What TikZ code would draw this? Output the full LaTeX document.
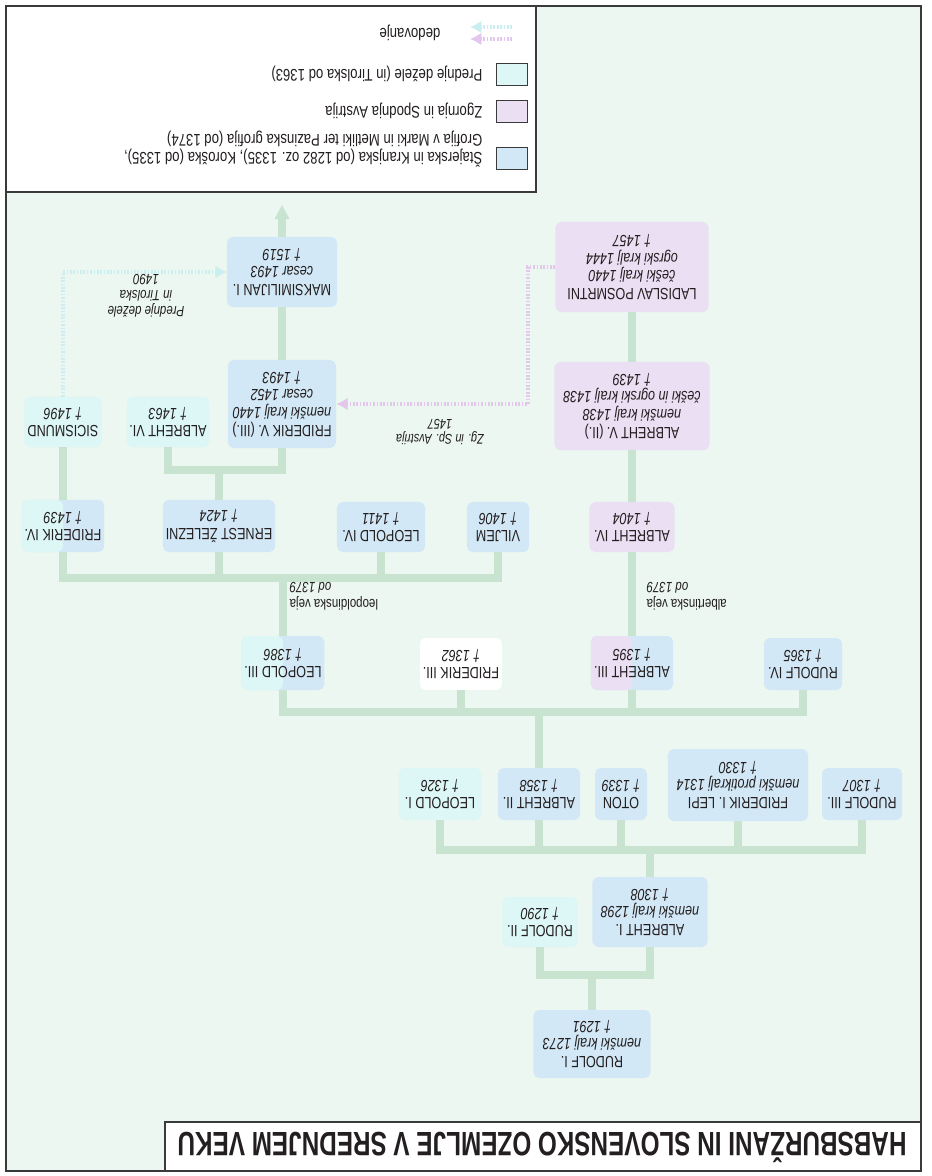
\documentclass[tikz,border=0pt]{standalone}
\usepackage{fontspec}
\setmainfont[FakeStretch=0.78]{Liberation Sans}
\newfontfamily\naslov[FakeStretch=0.72]{Liberation Sans}
\usetikzlibrary{arrows.meta}

\definecolor{ozadje}{HTML}{EBF7F0}
\definecolor{crtazel}{HTML}{C8E4D0}
\definecolor{kranjska}{HTML}{D3E8F6}
\definecolor{avstrija}{HTML}{EADFF3}
\definecolor{prednje}{HTML}{DDF6F6}
\definecolor{dedroza}{HTML}{E4C6EC}
\definecolor{dedmodra}{HTML}{CBEFF1}
\definecolor{okvir}{HTML}{3A3A3A}
\definecolor{crnilo}{HTML}{231F20}

\tikzstyle{oseba} = [rectangle, rounded corners=4pt, rotate=180, align=center, inner sep=2pt, text=crnilo, font=\fontsize{11.5}{12.5}\selectfont]
\tikzstyle{modra} = [oseba, fill=kranjska]
\tikzstyle{vijola} = [oseba, fill=avstrija]
\tikzstyle{cian} = [oseba, fill=prednje]
\tikzstyle{bela} = [oseba, fill=white]
\tikzset{deljena/.style={oseba, fill=kranjska, path picture={\fill[#1] (path picture bounding box.north west) rectangle (path picture bounding box.south);}}}
\tikzstyle{linija} = [line width=5.5pt, draw=crtazel]
\tikzstyle{dedovanje} = [line width=3pt, dash pattern=on 1.2pt off 1.2pt, -{Latex[length=8pt,width=9pt]}]
\tikzstyle{oznaka} = [rotate=180, inner sep=1pt, text=crnilo, font=\fontsize{10.5}{12}\selectfont]
\tikzstyle{barva} = [draw=okvir, line width=0.5pt, minimum width=0.78cm, minimum height=0.55cm, inner sep=0pt]
\newcommand{\letnica}[1]{{\itshape #1}}

\begin{document}
\begin{tikzpicture}[x=0.025cm, y=-0.025cm]
\useasboundingbox (0,0) rectangle (932,1176);
\fill[ozadje] (6,6) rectangle (921,1171);

% rodovnik
\node (rud1) [modra, minimum width=2.93cm, minimum height=1.7cm] at (592,1044) {RUDOLF I.\\ \letnica{nemški kralj 1273}\\ \letnica{† 1291}};
\node (rud2) [cian, minimum width=1.88cm, minimum height=1.25cm] at (540,922) {RUDOLF II.\\ \letnica{† 1290}};
\node (alb1) [modra, minimum width=2.88cm, minimum height=1.75cm] at (650,912) {ALBREHT I.\\ \letnica{nemški kralj 1298}\\ \letnica{† 1308}};

\node (rud3) [modra, minimum width=2cm, minimum height=1.3cm] at (862,794) {RUDOLF III.\\ \letnica{† 1307}};
\node (fri1) [modra, minimum width=3.5cm, minimum height=1.8cm] at (738,785) {FRIDERIK I. LEPI\\ \letnica{nemški protikralj 1314}\\ \letnica{† 1330}};
\node (oton) [modra, minimum width=1.3cm, minimum height=1.3cm] at (621,794) {OTON\\ \letnica{† 1339}};
\node (alb2) [modra, minimum width=2.05cm, minimum height=1.3cm] at (539,794) {ALBREHT II.\\ \letnica{† 1358}};
\node (leo1) [cian, minimum width=2.05cm, minimum height=1.3cm] at (440,794) {LEOPOLD I.\\ \letnica{† 1326}};

\node (rud4) [modra, minimum width=1.95cm, minimum height=1.3cm] at (803,664) {RUDOLF IV.\\ \letnica{† 1365}};
\node (alb3) [deljena=avstrija, minimum width=2.05cm, minimum height=1.35cm] at (632,663) {ALBREHT III.\\ \letnica{† 1395}};
\node (fri3) [bela, minimum width=2.05cm, minimum height=1.3cm] at (461,664) {FRIDERIK III.\\ \letnica{† 1362}};
\node (leo3) [deljena=prednje, minimum width=2.05cm, minimum height=1.35cm] at (283,663) {LEOPOLD III.\\ \letnica{† 1386}};

\node (alb4) [vijola, minimum width=2.13cm, minimum height=1.25cm] at (632,527) {ALBREHT IV.\\ \letnica{† 1404}};
\node (vilj) [modra, minimum width=1.55cm, minimum height=1.25cm] at (498,527) {VILJEM\\ \letnica{† 1406}};
\node (leo4) [modra, minimum width=2.2cm, minimum height=1.25cm] at (381,527) {LEOPOLD IV.\\ \letnica{† 1411}};
\node (ern) [modra, minimum width=2.75cm, minimum height=1.3cm] at (219,526) {ERNEST ŽELEZNI\\ \letnica{† 1424}};
\node (fri4) [deljena=prednje, minimum width=1.9cm, minimum height=1.3cm] at (63,526) {FRIDERIK IV.\\ \letnica{† 1439}};

\node (alb5) [vijola, minimum width=3.88cm, minimum height=2.2cm] at (632,406) {ALBREHT V. (II.)\\ \letnica{nemški kralj 1438}\\ \letnica{češki in ogrski kralj 1438}\\ \letnica{† 1439}};
\node (fri5) [modra, minimum width=2.7cm, minimum height=2.2cm] at (282,404) {FRIDERIK V. (III.)\\ \letnica{nemški kralj 1440}\\ \letnica{cesar 1452}\\ \letnica{† 1493}};
\node (alb6) [cian, minimum width=2cm, minimum height=1.25cm] at (168,422) {ALBREHT VI.\\ \letnica{† 1463}};
\node (sig) [cian, minimum width=1.93cm, minimum height=1.25cm] at (63,422) {SICISMUND\\ \letnica{† 1496}};

\node (lad) [vijola, minimum width=3.83cm, minimum height=2.25cm] at (632,267) {LADISLAV POSMRTNI\\ \letnica{češki kralj 1440}\\ \letnica{ogrski kralj 1444}\\ \letnica{† 1457}};
\node (maks) [modra, minimum width=2.75cm, minimum height=1.75cm] at (282,272) {MAKSIMILIJAN I.\\ \letnica{cesar 1493}\\ \letnica{† 1519}};

\coordinate (b1) at (592,975);
\coordinate (b2) at (650,850);
\coordinate (b3) at (539,712);
\coordinate (b4) at (283,578);
\coordinate (b5) at (219,470);
\coordinate (naprej) at (282,205);

\draw [linija] (rud2.north) |- (b1) -| (alb1.north);
\draw [linija] (rud1.south) -- (b1);
\draw [linija] (leo1.north) |- (b2) -| (rud3.north);
\draw [linija] (alb1.south) -- (b2);
\foreach \n in {alb2, oton, fri1}
  \draw [linija] (\n.north) -- (\n.north |- b2);
\draw [linija] (leo3.north) |- (b3) -| (rud4.north);
\draw [linija] (alb2.south) -- (b3);
\foreach \n in {alb3, fri3}
  \draw [linija] (\n.north) -- (\n.north |- b3);
\draw [linija] (fri4.north) |- (b4) -| (vilj.north);
\draw [linija] (leo3.south) -- (b4);
\foreach \n in {ern, leo4}
  \draw [linija] (\n.north) -- (\n.north |- b4);
\draw [linija] (alb6.north) |- (b5) -| (fri5.north);
\draw [linija] (ern.south) -- (b5);
\draw [linija] (alb3.south) -- (alb4.north);
\draw [linija] (alb4.south) -- (alb5.north);
\draw [linija] (alb5.south) -- (lad.north);
\draw [linija] (fri4.south) -- (sig.north);
\draw [linija] (fri5.south) -- (maks.north);
\draw [linija, -{Triangle[length=10pt,width=10pt]}] (maks.south) -- (naprej);

\draw [dedovanje, draw=dedroza] (lad.east) -- ++(-27,0) |- (fri5.west);
\draw [dedovanje, draw=dedmodra] (sig.south) |- (maks.east);

\node (albveja) [oznaka, anchor=east, align=right] at (645,596) {albertinska veja\\ \textit{od 1379}};
\node (leoveja) [oznaka, anchor=east, align=right] at (288,596) {leopoldinska veja\\ \textit{od 1379}};
\node (zgsp) [oznaka, align=center, font=\fontsize{10}{10.5}\selectfont\itshape] at (440,432) {Zg. in Sp. Avstrija\\ 1457};
\node (tirol) [oznaka, align=center, font=\fontsize{10.5}{11.5}\selectfont\itshape] at (146,296) {Prednje dežele\\ in Tirolska\\ 1490};

% legenda
\draw [draw=okvir, line width=0.8pt, fill=white] (6,6) rectangle (536,192);
\node (sw1) [barva, fill=kranjska] at (512,158) {};
\node (sw2) [barva, fill=avstrija] at (512,111) {};
\node (sw3) [barva, fill=prednje] at (512,74) {};
\node (leg1) [oznaka, anchor=west, align=left, font=\fontsize{12}{13}\selectfont] at (484,149) {Štajerska in Kranjska (od 1282 oz. 1335), Koroška (od 1335),\\ Grofija v Marki in Metliki ter Pazinska grofija (od 1374)};
\node (leg2) [oznaka, anchor=west, font=\fontsize{12}{13}\selectfont] at (484,111) {Zgornja in Spodnja Avstrija};
\node (leg3) [oznaka, anchor=west, font=\fontsize{12}{13}\selectfont] at (484,74) {Prednje dežele (in Tirolska od 1363)};
\node (leg4) [oznaka, anchor=west, font=\fontsize{12}{13}\selectfont] at (442,33) {dedovanje};
\coordinate (lm1) at (512,27);
\coordinate (lm2) at (470,27);
\coordinate (lr1) at (512,39);
\coordinate (lr2) at (470,39);
\draw [dedovanje, draw=dedmodra, line width=2.5pt] (lm1) -- (lm2);
\draw [dedovanje, draw=dedroza, line width=2.5pt] (lr1) -- (lr2);

% naslov
\draw [draw=okvir, line width=0.8pt, fill=white] (165,1122) rectangle (921,1171);
\node (naslov) [rotate=180, text=crnilo, font=\naslov\fontsize{24}{24}\selectfont\bfseries] at (542,1147) {HABSBURŽANI IN SLOVENSKO OZEMLJE V SREDNJEM VEKU};

\draw [draw=okvir, line width=1pt] (6,6) rectangle (921,1171);
\end{tikzpicture}
\end{document}
